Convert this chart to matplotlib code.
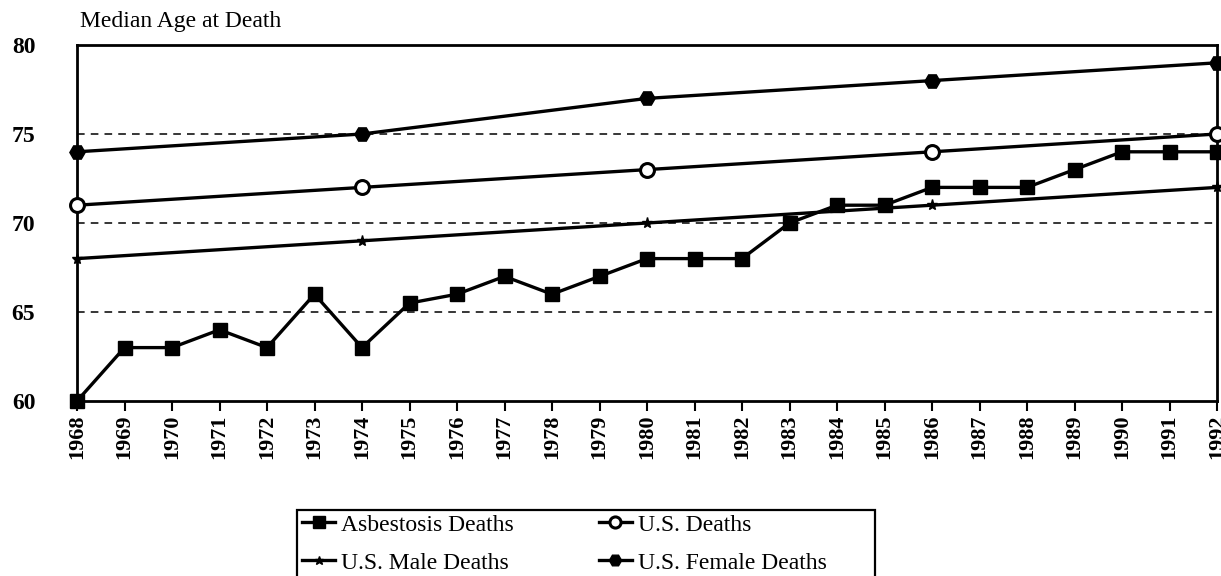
import numpy as np
import matplotlib.pyplot as plt
from matplotlib.patches import Rectangle

years = list(range(1968, 1993))
asbestosis = [60, 63, 63, 64, 63, 66, 63, 65.5, 66, 67, 66, 67, 68, 68, 68,
              70, 71, 71, 72, 72, 72, 73, 74, 74, 74]
census_years = [1968, 1974, 1980, 1986, 1992]
us_deaths = [71, 72, 73, 74, 75]
us_male = [68, 69, 70, 71, 72]
us_female = [74, 75, 77, 78, 79]
y_ticks = [60, 65, 70, 75, 80]

plt.rcParams['font.family'] = ['Liberation Serif', 'DejaVu Serif']

W, H = 1221, 576
fig = plt.figure(figsize=(W / 100, H / 100), dpi=100)
ax = fig.add_axes([77 / W, 1 - 401 / H, 1140 / W, 356 / H])

for y in [65, 70, 75]:
    ax.axhline(y, color='black', lw=1.1, ls=(0, (5, 4)), zorder=0)
    ax.plot([-0.35, 0], [y, y], color='black', lw=1.1, ls=(0, (5, 4)),
            clip_on=False, zorder=0)

lw = 2.4
h1, = ax.plot(years, asbestosis, color='black', lw=lw, marker='s', ms=10,
              label='Asbestosis Deaths', clip_on=False, zorder=3)
h2, = ax.plot(census_years, us_deaths, color='black', lw=lw, marker='o', ms=10,
              mfc='white', mew=2.2, label='U.S. Deaths', clip_on=False, zorder=3)
h3, = ax.plot(census_years, us_male, color='black', lw=lw, marker='*', ms=8,
              label='U.S. Male Deaths', clip_on=False, zorder=3)
h4, = ax.plot(census_years, us_female, color='black', lw=lw, marker='H', ms=11,
              label='U.S. Female Deaths', clip_on=False, zorder=3)

ax.set_xlim(1968, 1992)
ax.set_ylim(60, 80)
ax.set_xticks(years)
ax.set_xticklabels([str(y) for y in years], rotation=90, fontsize=16,
                   fontweight='bold')
ax.set_yticks(y_ticks)
ax.set_yticklabels([str(y) for y in y_ticks], fontsize=17, fontweight='bold')
ax.tick_params(axis='y', length=0, pad=30)
ax.tick_params(axis='x', length=7, width=1.5, pad=3, direction='out')
for s in ax.spines.values():
    s.set_linewidth(2)
ax.plot([-0.5, 0], [80, 80], color='black', lw=2, clip_on=False)
ax.plot([-0.5, 0], [60, 60], color='black', lw=2, clip_on=False)

fig.text(80 / W, 1 - 22 / H, 'Median Age at Death', fontsize=17,
         va='center', ha='left')

# legend box (runs off the bottom edge like the scan)
fig.patches.append(Rectangle((297 / W, -0.02), (875 - 297) / W,
                             (H - 510) / H + 0.02, transform=fig.transFigure,
                             fill=False, edgecolor='black', lw=1.6))
leg = fig.legend(handles=[h1, h3, h2, h4], ncol=2, loc='upper left',
                 bbox_to_anchor=(302 / W, 1 - 514 / H), fontsize=17,
                 frameon=False, handlelength=1.4, handletextpad=0.25,
                 columnspacing=3.6, borderpad=0.0, borderaxespad=0.0,
                 labelspacing=0.7, markerscale=0.8)

fig.savefig('out.png', dpi=100)
